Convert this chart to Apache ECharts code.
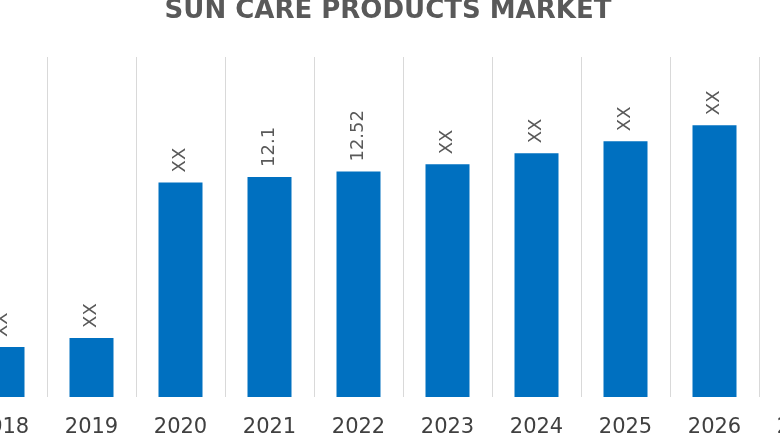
<!DOCTYPE html>
<html><head><meta charset="utf-8">
<script src="https://cdn.jsdelivr.net/npm/echarts@6/dist/echarts.min.js"></script>
<style>html,body{margin:0;padding:0;background:#fff;overflow:hidden;width:780px;height:440px}#c{width:890px;height:440px;margin-left:-42px}</style>
</head><body><div id="c"></div>
<script>
const categories = ['2018','2019','2020','2021','2022','2023','2024','2025','2026','2027'];
const values = [2.75, 3.25, 11.8, 12.1, 12.4, 12.8, 13.4, 14.07, 14.95, 15.8];
const labels = ['XX','XX','XX','12.1','12.52','XX','XX','XX','XX','XX'];
const chart = echarts.init(document.getElementById('c'));
chart.setOption({
  animation:false,
  title:{text:'SUN CARE PRODUCTS MARKET',left:425,textAlign:'center',top:-7,
    textStyle:{fontFamily:'DejaVu Sans',fontWeight:'bold',fontSize:26,color:'#595959'}},
  grid:{left:0,right:0,top:57,bottom:43},
  xAxis:{type:'category',data:categories,
    axisLine:{show:false},axisTick:{show:false},
    splitLine:{show:true,lineStyle:{color:'#d9d9d9',width:1}},
    axisLabel:{fontFamily:'DejaVu Sans',fontSize:21,color:'#404040',margin:20}},
  yAxis:{type:'value',min:0,max:18.7,show:false,splitLine:{show:false}},
  series:[{type:'bar',data:values,barWidth:44,itemStyle:{color:'#0070c0'},
    label:{show:true,position:'top',rotate:90,align:'left',verticalAlign:'middle',distance:10,
      fontFamily:'DejaVu Sans',fontSize:18,color:'#595959',
      formatter:p=>labels[p.dataIndex]}}]
});
</script></body></html>
